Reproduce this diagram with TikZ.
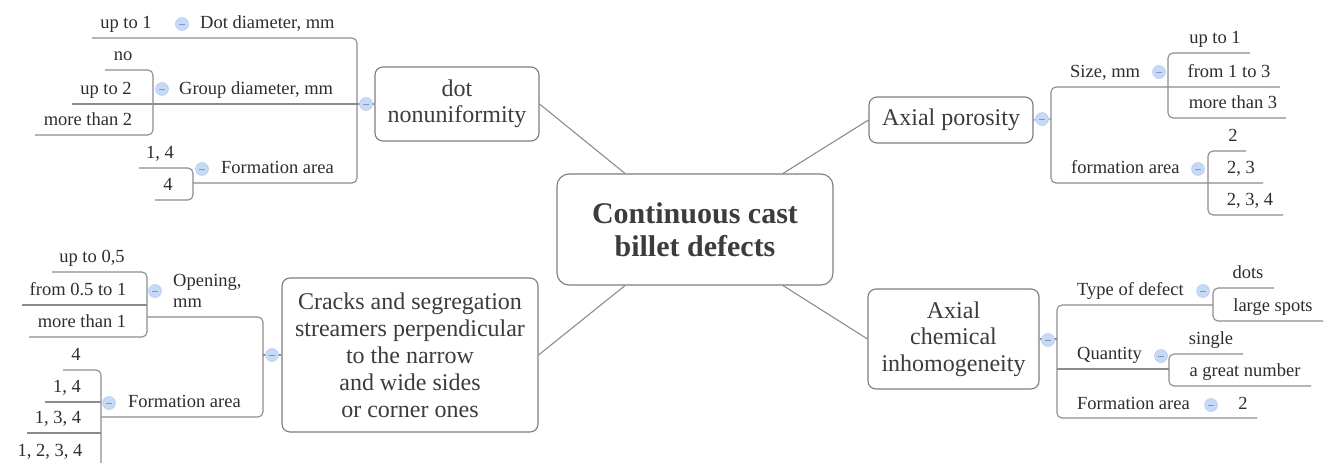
\documentclass[tikz,border=0pt]{standalone}
\usepackage{fontspec}
\setmainfont{Liberation Serif}
\usetikzlibrary{backgrounds}
\definecolor{lngray}{RGB}{140,140,140}
\definecolor{bxgray}{RGB}{125,125,125}
\definecolor{txt}{RGB}{45,45,45}
\definecolor{btxt}{RGB}{60,60,60}
\definecolor{togblue}{RGB}{198,217,246}
\definecolor{togedge}{RGB}{178,202,238}
\definecolor{minusc}{RGB}{135,150,178}
\tikzset{
  box/.style={draw=bxgray, line width=1.1pt, rounded corners=8pt, fill=white, align=center, text=btxt, font=\fontsize{24}{26.5}\selectfont, inner sep=0pt},
  lbl/.style={text=txt, font=\fontsize{18.5}{21}\selectfont, inner sep=0pt, anchor=base},
  lblw/.style={lbl, anchor=base west},
  tog/.style={circle, fill=togblue, draw=togedge, line width=0.5pt, minimum size=13pt, inner sep=0pt,
    path picture={\draw[minusc, line width=1pt] ([xshift=-3pt]path picture bounding box.center) -- ([xshift=3pt]path picture bounding box.center);}},
  conn/.style={draw=lngray, line width=1.1pt, rounded corners=5pt}
}
\begin{document}
\begin{tikzpicture}[x=1pt, y=-1pt]
\useasboundingbox (0,0) rectangle (1328,463);

% ---------- main boxes ----------
\node[box, font=\bfseries\fontsize{30}{33}\selectfont, minimum width=276pt, minimum height=111pt, rounded corners=12pt] (cc) at (695,229.5) {Continuous cast\\billet defects};
\node[box, minimum width=164pt, minimum height=74pt] (dn) at (457,104) {dot\\nonuniformity};
\node[box, minimum width=256pt, minimum height=154pt, font=\fontsize{24}{27}\selectfont] (cr) at (410,355) {Cracks and segregation\\streamers perpendicular\\to the narrow\\and wide sides\\or corner ones};
\node[box, minimum width=164pt, minimum height=46pt] (ap) at (951,120) {Axial porosity};
\node[box, minimum width=171pt, minimum height=100pt] (ac) at (953.5,339) {Axial\\chemical\\inhomogeneity};

% ---------- toggles ----------
\node[tog] (dnT) at (366,104) {};
\node[tog] (ddT) at (182,24) {};
\node[tog] (gdT) at (162,89) {};
\node[tog] (faT) at (202,169) {};
\node[tog] (crT) at (272,355) {};
\node[tog] (opT) at (155,291) {};
\node[tog] (cfT) at (109,403) {};
\node[tog] (apT) at (1042,119) {};
\node[tog] (szT) at (1159,72) {};
\node[tog] (afT) at (1198,169) {};
\node[tog] (acT) at (1048,340) {};
\node[tog] (tdT) at (1203,291) {};
\node[tog] (qtT) at (1161,356) {};
\node[tog] (afrT) at (1211,405) {};

% ---------- labels: dot nonuniformity ----------
\node[lbl] (l-upto1) at (126,28) {up to 1};
\node[lblw] (l-dd) at (200,28) {Dot diameter, mm};
\node[lbl] (l-no) at (123,60) {no};
\node[lbl] (l-upto2) at (106,94) {up to 2};
\node[lbl] (l-mt2) at (88,125) {more than 2};
\node[lblw] (l-gd) at (179,94) {Group diameter, mm};
\node[lbl] (l-fa14) at (160,158) {1, 4};
\node[lbl] (l-fa4) at (168,190) {4};
\node[lblw] (l-fa) at (221,173) {Formation area};

% ---------- labels: cracks ----------
\node[lbl] (l-op05) at (92,262) {up to 0,5};
\node[lbl] (l-op051) at (78,295) {from 0.5 to 1};
\node[lbl] (l-op1) at (82,327) {more than 1};
\node[lbl, align=left, anchor=west] (l-op) at (173,291) {Opening,\\mm};
\node[lbl] (l-cf4) at (76,360) {4};
\node[lbl] (l-cf14) at (67,392) {1, 4};
\node[lbl] (l-cf134) at (58,423) {1, 3, 4};
\node[lbl] (l-cf1234) at (50,456) {1, 2, 3, 4};
\node[lblw] (l-cf) at (128,407) {Formation area};

% ---------- labels: axial porosity ----------
\node[lblw] (l-sz) at (1070,77) {Size, mm};
\node[lbl] (l-sz1) at (1215,43) {up to 1};
\node[lbl] (l-sz13) at (1229,77) {from 1 to 3};
\node[lbl] (l-sz3) at (1233,108) {more than 3};
\node[lblw] (l-af) at (1071,173) {formation area};
\node[lbl] (l-af2) at (1233,141) {2};
\node[lbl] (l-af23) at (1241,173) {2, 3};
\node[lbl] (l-af234) at (1250,205) {2, 3, 4};

% ---------- labels: axial chemical ----------
\node[lblw] (l-td) at (1077,295) {Type of defect};
\node[lbl] (l-dots) at (1248,278) {dots};
\node[lbl] (l-ls) at (1273,311) {large spots};
\node[lblw] (l-qt) at (1077,359) {Quantity};
\node[lbl] (l-sg) at (1211,344) {single};
\node[lbl] (l-gn) at (1245,376) {a great number};
\node[lblw] (l-afr) at (1077,409) {Formation area};
\node[lbl] (l-afr2) at (1243,409) {2};

% ---------- coordinates ----------
\coordinate (dnJ) at (357,104);
\coordinate (ddEnd) at (92,38);
\coordinate (gdEnd) at (72,104);
\coordinate (gdJ) at (153,104);
\coordinate (noEnd) at (105,70);
\coordinate (mt2End) at (35,135);
\coordinate (faJ) at (193,183);
\coordinate (fa14End) at (139,168);
\coordinate (fa4End) at (155,200);

\coordinate (crJ) at (263,355);
\coordinate (opJ) at (147,317);
\coordinate (op05End) at (52,272);
\coordinate (op051End) at (22,305);
\coordinate (op1End) at (29,337);
\coordinate (cfJ) at (101,417);
\coordinate (cf4End) at (63,370);
\coordinate (cfBot) at (101,470);
\coordinate (cf14End) at (45,402);
\coordinate (cf134End) at (27,433);

\coordinate (apJ) at (1051,119);
\coordinate (szEnd) at (1280,87);
\coordinate (szJ) at (1168,87);
\coordinate (sz1End) at (1250,53);
\coordinate (sz3End) at (1286,118);
\coordinate (afEnd) at (1263,183);
\coordinate (afJ) at (1208,183);
\coordinate (af2End) at (1246,151);
\coordinate (af234End) at (1283,215);

\coordinate (acJ) at (1057,339);
\coordinate (tdJ) at (1213,305);
\coordinate (dotsEnd) at (1274,288);
\coordinate (lsEnd) at (1323,321);
\coordinate (qtJ) at (1169,369);
\coordinate (sgEnd) at (1243,354);
\coordinate (gnEnd) at (1311,386);
\coordinate (afrEnd) at (1257,418);

% ---------- connectors ----------
\begin{scope}[on background layer]
\draw[conn] (dn.east) -- ([xshift=-70pt]cc.north);
\draw[conn] (ap.west) -- ([xshift=88pt]cc.north);
\draw[conn] (cr.east) -- ([xshift=-70pt]cc.south);
\draw[conn] (ac.west) -- ([xshift=88pt]cc.south);

\draw[conn] (dn.west) -- (gdEnd);
\draw[conn] (ddEnd) -| (dnJ) |- (faJ);
\draw[conn] (noEnd) -| (gdJ) |- (mt2End);
\draw[conn] (fa14End) -| (faJ) |- (fa4End);

\draw[conn] (cr.west) -- (crJ);
\draw[conn] (opJ) -| (crJ) |- (cfJ);
\draw[conn] (op05End) -| (opJ) |- (op1End);
\draw[conn] (op051End) -- (op051End -| opJ);
\draw[conn] (cf4End) -| (cfBot);
\draw[conn] (cf14End) -- (cf14End -| cfJ);
\draw[conn] (cf134End) -- (cf134End -| cfJ);

\draw[conn] (ap.east) -- (apJ);
\draw[conn] (szEnd) -| (apJ) |- (afEnd);
\draw[conn] (sz1End) -| (szJ) |- (sz3End);
\draw[conn] (af2End) -| (afJ) |- (af234End);

\draw[conn] (ac.east) -- (acJ);
\draw[conn] (tdJ) -| (acJ) |- (afrEnd);
\draw[conn] (qtJ) -- (qtJ -| acJ);
\draw[conn] (dotsEnd) -| (tdJ) |- (lsEnd);
\draw[conn] (sgEnd) -| (qtJ) |- (gnEnd);
\end{scope}
\end{tikzpicture}
\end{document}
